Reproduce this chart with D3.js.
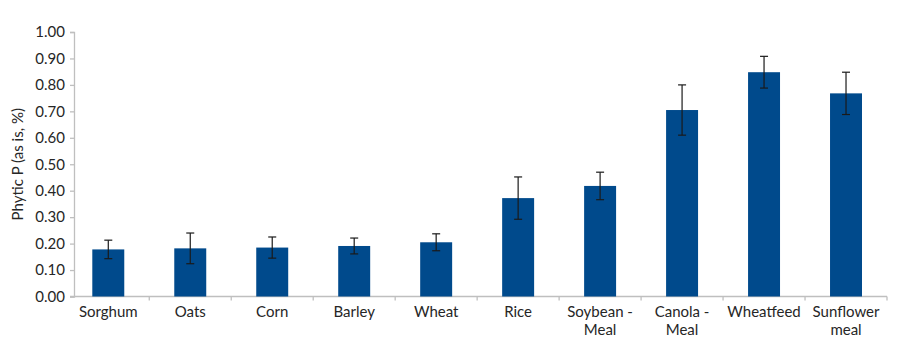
<!DOCTYPE html>
<meta charset="utf-8">
<head>
<title>Phytic P</title>
<style>
  body { margin: 0; background: #fff; }
  text { font-family: Lato, "Open Sans", sans-serif; fill: #262626; }
</style>
</head>
<body>
<div id="chart"></div>
<script src="https://d3js.org/d3.v7.min.js"></script>
<script>
// data
var feeds = ["Sorghum", "Oats", "Corn", "Barley", "Wheat", "Rice", "Soybean - Meal", "Canola - Meal", "Wheatfeed", "Sunflower meal"];
var phyticP = [0.178, 0.182, 0.185, 0.191, 0.205, 0.372, 0.418, 0.705, 0.848, 0.768];
var errSize = [0.035, 0.058, 0.040, 0.030, 0.032, 0.080, 0.052, 0.095, 0.060, 0.080];
var yTicks = [0, 0.1, 0.2, 0.3, 0.4, 0.5, 0.6, 0.7, 0.8, 0.9, 1.0];
// some labels wrap onto two lines
var labelLines = {
  "Soybean - Meal": ["Soybean -", "Meal"],
  "Canola - Meal": ["Canola -", "Meal"],
  "Sunflower meal": ["Sunflower", "meal"]
};

var width = 900, height = 354;
var plotLeft = 74, plotRight = 887, plotTop = 32, plotBottom = 296.5;

var svg = d3.select("#chart").append("svg")
    .attr("width", width)
    .attr("height", height);

var x = d3.scaleBand()
    .domain(feeds)
    .range([67.3, plotRight])
    .paddingInner(0.61)
    .paddingOuter(0.305);

var y = d3.scaleLinear()
    .domain([0, 1])
    .range([plotBottom, plotTop]);

// y axis
var yAxis = svg.append("g")
    .attr("transform", "translate(" + plotLeft + ",0)")
    .call(d3.axisLeft(y).tickValues(yTicks).tickFormat(d3.format(".2f")).tickSize(4).tickPadding(5));
yAxis.select(".domain").attr("stroke", "#bfbfbf").attr("stroke-width", 1.3);
yAxis.selectAll(".tick line").attr("stroke", "#bfbfbf").attr("stroke-width", 1.3);
yAxis.selectAll("text").style("font-size", "15px").attr("fill", "#262626");

// x axis: line plus ticks at category boundaries
var xg = svg.append("g");
xg.append("line")
    .attr("x1", plotLeft - 4).attr("x2", plotRight)
    .attr("y1", plotBottom).attr("y2", plotBottom)
    .attr("stroke", "#bfbfbf").attr("stroke-width", 1.3);
xg.selectAll("line.tk")
    .data(feeds)
    .enter().append("line")
    .attr("class", "tk")
    .attr("x1", function(d) { return x(d) + x.bandwidth() / 2 + x.step() / 2; })
    .attr("x2", function(d) { return x(d) + x.bandwidth() / 2 + x.step() / 2; })
    .attr("y1", plotBottom).attr("y2", plotBottom + 4)
    .attr("stroke", "#bfbfbf").attr("stroke-width", 1.3);

var lab = xg.selectAll("text.lab")
    .data(feeds)
    .enter().append("text")
    .attr("class", "lab")
    .attr("text-anchor", "middle")
    .style("font-size", "15px")
    .attr("x", function(d) { return x(d) + x.bandwidth() / 2; })
    .attr("y", 317);
lab.each(function(d) {
  var lines = labelLines[d] || [d];
  var t = d3.select(this);
  lines.forEach(function(s, i) {
    t.append("tspan")
      .attr("x", x(d) + x.bandwidth() / 2)
      .attr("dy", i == 0 ? 0 : 18)
      .text(s);
  });
});

// bars
svg.selectAll("rect.bar")
    .data(feeds)
    .enter().append("rect")
    .attr("class", "bar")
    .attr("x", function(d) { return x(d); })
    .attr("y", function(d, i) { return y(phyticP[i]); })
    .attr("width", x.bandwidth())
    .attr("height", function(d, i) { return y(0) - y(phyticP[i]); })
    .attr("fill", "#004a8c");

// error bars
var eb = svg.selectAll("g.err")
    .data(feeds)
    .enter().append("g")
    .attr("class", "err")
    .attr("stroke", "#1a1a1a")
    .attr("stroke-width", 1.2);
eb.append("line")
    .attr("x1", function(d) { return x(d) + x.bandwidth() / 2; })
    .attr("x2", function(d) { return x(d) + x.bandwidth() / 2; })
    .attr("y1", function(d, i) { return y(phyticP[i] + errSize[i]); })
    .attr("y2", function(d, i) { return y(phyticP[i] - errSize[i]); });
[1, -1].forEach(function(sgn) {
  eb.append("line")
    .attr("x1", function(d) { return x(d) + x.bandwidth() / 2 - 4; })
    .attr("x2", function(d) { return x(d) + x.bandwidth() / 2 + 4; })
    .attr("y1", function(d, i) { return y(phyticP[i] + sgn * errSize[i]); })
    .attr("y2", function(d, i) { return y(phyticP[i] + sgn * errSize[i]); });
});

// y axis title
svg.append("text")
    .attr("transform", "translate(23," + (plotTop + plotBottom) / 2 + ")rotate(-90)")
    .attr("text-anchor", "middle")
    .style("font-size", "15px")
    .text("Phytic P (as is, %)");
</script>
</body>
</html>
